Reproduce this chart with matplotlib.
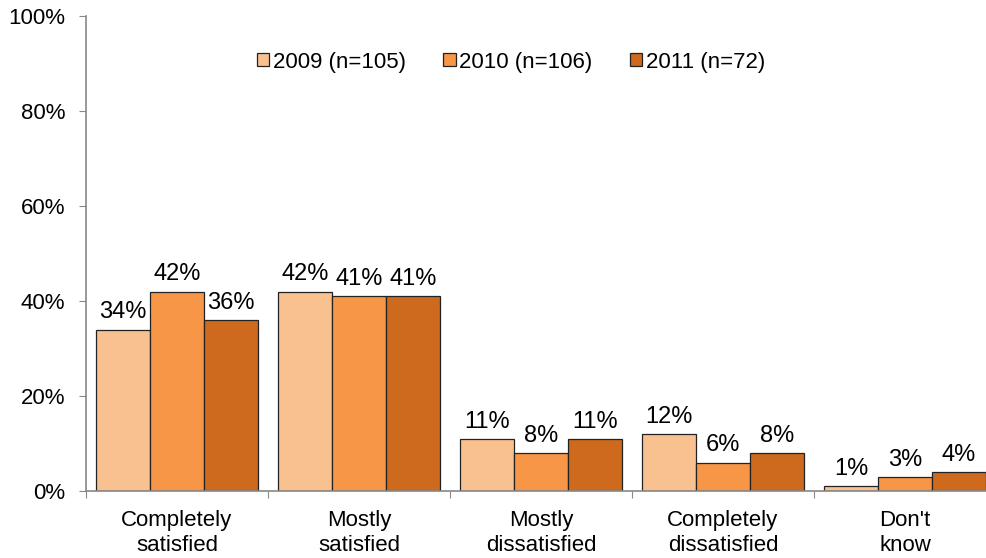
import numpy as np
import matplotlib.pyplot as plt
from matplotlib.ticker import FuncFormatter

plt.rcParams['font.family'] = ['Liberation Sans', 'DejaVu Sans']

categories = ["Completely\nsatisfied", "Mostly\nsatisfied", "Mostly\ndissatisfied",
              "Completely\ndissatisfied", "Don't\nknow"]
series = ["2009 (n=105)", "2010 (n=106)", "2011 (n=72)"]
values = [
    [34, 42, 11, 12, 1],
    [42, 41, 8, 6, 3],
    [36, 41, 11, 8, 4],
]
colors = ["#F9C090", "#F79646", "#CD6A1E"]

fig = plt.figure(figsize=(9.87, 5.58), dpi=100)
ax = fig.add_axes([86 / 987, 1 - 491 / 558, 910 / 987, 475 / 558])

x = np.arange(len(categories))
w = 54 / 182
for i, (name, vals) in enumerate(zip(series, values)):
    pos = x + (i - 1) * w
    ax.bar(pos, vals, width=w, color=colors[i], edgecolor="#222222", linewidth=0.9, label=name)
    for p, v in zip(pos, vals):
        ax.text(p, v + 1.3, f"{v}%", ha="center", va="bottom", fontsize=17)

ax.set_xlim(-0.5, len(categories) - 0.5)
ax.set_ylim(0, 100)
ax.set_yticks(range(0, 101, 20))
ax.yaxis.set_major_formatter(FuncFormatter(lambda v, _: f"{int(v)}%"))
ax.set_xticks(np.arange(-0.5, len(categories), 1))
ax.set_xticklabels([])
ax.set_xticks(x, minor=True)
ax.set_xticklabels(categories, minor=True, fontsize=16, linespacing=1.2)
ax.tick_params(axis="x", which="minor", length=0, pad=14)
ax.tick_params(axis="x", which="major", length=5, color="#888888", direction="out")
ax.tick_params(axis="y", length=5, color="#888888", labelsize=16, pad=10)

for s in ["top", "right"]:
    ax.spines[s].set_visible(False)
for s in ["left", "bottom"]:
    ax.spines[s].set_color("#888888")
    ax.spines[s].set_linewidth(1.2)

ax.legend(loc="center", bbox_to_anchor=(0.467, 0.903), ncol=3, frameon=False,
          fontsize=16, handlelength=0.55, handleheight=0.55, handletextpad=0.15,
          columnspacing=1.7)

fig.savefig("out.png", dpi=100)
